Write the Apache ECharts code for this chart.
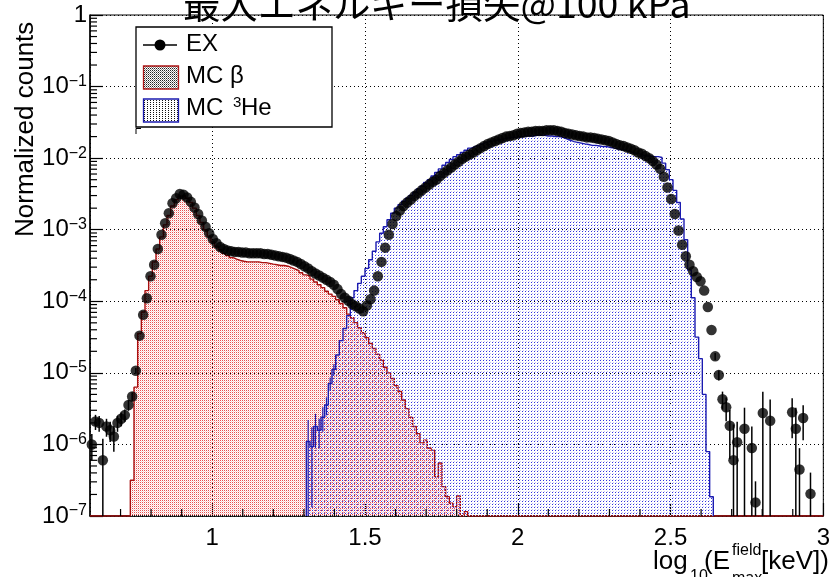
<!DOCTYPE html>
<html><head><meta charset="utf-8">
<script src="https://cdn.jsdelivr.net/npm/echarts@6/dist/echarts.min.js"></script>
<style>html,body{margin:0;padding:0;background:#fff}#c{width:833px;height:577px}</style>
</head><body><div id="c"></div>
<script>
// ---- binning (histogram definition) ----
const xMin = 0.6, xMax = 3.0, binWidth = 0.012, nBins = 200;
const yMin = 1e-7, yMax = 1;

// ---- EX (data points), one value per bin, null = empty bin ----
const exCounts = [
 1.0e-6,2.09e-6,2.0e-6,6.0e-7,1.78e-6,1.58e-6,1.29e-6,2.0e-6,2.29e-6,2.57e-6,
 3.55e-6,4.68e-6,1.07e-5,3.31e-5,6.46e-5,1.10e-4,2.24e-4,3.24e-4,5.37e-4,8.51e-4,
 1.23e-3,1.70e-3,2.34e-3,2.75e-3,3.16e-3,3.09e-3,2.82e-3,2.45e-3,2.04e-3,1.66e-3,
 1.35e-3,1.10e-3,8.91e-4,7.41e-4,6.46e-4,5.75e-4,5.37e-4,5.13e-4,5.01e-4,4.90e-4,
 4.90e-4,4.79e-4,4.79e-4,4.68e-4,4.68e-4,4.68e-4,4.68e-4,4.57e-4,4.57e-4,4.47e-4,
 4.37e-4,4.27e-4,4.17e-4,4.07e-4,3.89e-4,3.72e-4,3.55e-4,3.31e-4,3.09e-4,2.88e-4,
 2.63e-4,2.45e-4,2.29e-4,2.14e-4,2.00e-4,1.86e-4,1.70e-4,1.48e-4,1.26e-4,1.12e-4,
 1.02e-4,9.12e-5,8.51e-5,7.94e-5,7.24e-5,8.71e-5,1.07e-4,1.41e-4,2.24e-4,3.55e-4,
 5.62e-4,8.51e-4,1.20e-3,1.55e-3,1.86e-3,2.14e-3,2.40e-3,2.63e-3,2.95e-3,3.24e-3,
 3.55e-3,3.89e-3,4.27e-3,4.68e-3,5.01e-3,5.62e-3,6.17e-3,6.76e-3,7.41e-3,8.13e-3,
 8.91e-3,9.77e-3,1.05e-2,1.12e-2,1.20e-2,1.29e-2,1.38e-2,1.48e-2,1.58e-2,1.66e-2,
 1.74e-2,1.82e-2,1.91e-2,2.00e-2,2.04e-2,2.09e-2,2.19e-2,2.24e-2,2.29e-2,2.34e-2,
 2.34e-2,2.40e-2,2.40e-2,2.40e-2,2.45e-2,2.45e-2,2.45e-2,2.40e-2,2.34e-2,2.24e-2,
 2.19e-2,2.14e-2,2.09e-2,2.04e-2,2.00e-2,1.95e-2,1.95e-2,1.91e-2,1.86e-2,1.82e-2,
 1.78e-2,1.74e-2,1.66e-2,1.58e-2,1.51e-2,1.48e-2,1.41e-2,1.35e-2,1.29e-2,1.20e-2,
 1.15e-2,1.07e-2,1.00e-2,9.12e-3,8.13e-3,7.08e-3,5.50e-3,3.89e-3,2.69e-3,1.66e-3,
 9.77e-4,6.17e-4,4.27e-4,3.24e-4,2.63e-4,2.19e-4,1.91e-4,1.41e-4,8.32e-5,3.98e-5,
 1.70e-5,9.33e-6,4.27e-6,3.31e-6,1.82e-6,6.03e-7,1.07e-6,null,1.66e-6,null,
 8.91e-7,1.55e-7,null,2.75e-6,null,2.14e-6,null,null,null,null,
 null,2.82e-6,1.66e-6,4.47e-7,2.34e-6,null,2.04e-7,null,null,null
];
const exErrBins = [0,1,2,3,4,5,6,7,8,9,10,11,12,170,171,172,173,174,175,176,178,180,181,183,185,191,192,193,194,196];
const exErrVals = [4e-7,5e-7,5e-7,6e-7,5e-7,5e-7,5e-7,5e-7,5e-7,5e-7,6e-7,7e-7,1.0e-6,
  2.0e-6,1.5e-6,1.2e-6,1.2e-6,1.2e-6,1.3e-6,1.0e-6,1.6e-6,8.9e-7,1.5e-7,2.7e-6,2.1e-6,1.6e-6,1.6e-6,4.4e-7,1.2e-6,2.0e-7];

// ---- MC beta histogram ----
const betaFirstBin = 11;
const betaCounts = [
 3.16e-7,6.31e-6,3.55e-5,7.08e-5,1.41e-4,2.24e-4,3.55e-4,5.37e-4,7.94e-4,1.17e-3,
 1.58e-3,2.14e-3,2.63e-3,2.95e-3,3.02e-3,2.75e-3,2.40e-3,2.00e-3,1.58e-3,1.26e-3,
 1.00e-3,8.13e-4,6.76e-4,5.89e-4,5.25e-4,4.68e-4,4.37e-4,4.07e-4,3.89e-4,3.72e-4,
 3.63e-4,3.55e-4,3.55e-4,3.55e-4,3.55e-4,3.47e-4,3.47e-4,3.39e-4,3.31e-4,3.24e-4,
 3.16e-4,3.16e-4,3.09e-4,2.95e-4,2.82e-4,2.69e-4,2.51e-4,2.34e-4,2.24e-4,2.04e-4,
 1.86e-4,1.70e-4,1.55e-4,1.38e-4,1.26e-4,1.17e-4,1.05e-4,9.33e-5,8.13e-5,6.61e-5,
 5.89e-5,5.01e-5,4.27e-5,3.63e-5,3.09e-5,2.57e-5,2.19e-5,1.82e-5,1.51e-5,1.20e-5,
 1.00e-5,8.32e-6,6.61e-6,5.50e-6,4.17e-6,3.16e-6,2.40e-6,1.78e-6,1.41e-6,1.05e-6,
 1.15e-6,8.91e-7,8.32e-7,3.55e-7,5.50e-7,2.57e-7,1.86e-7,1.51e-7,1.35e-7,1.91e-7,
 null,1.15e-7
];

// ---- MC 3He histogram ----
const heFirstBin = 59;
const heCounts = [
 1.10e-6,9.33e-7,1.78e-6,1.58e-6,2.40e-6,3.55e-6,7.08e-6,1.12e-5,1.78e-5,2.82e-5,
 4.17e-5,6.31e-5,1.12e-4,1.41e-4,1.78e-4,2.24e-4,2.88e-4,3.80e-4,5.01e-4,6.76e-4,
 8.91e-4,1.10e-3,1.38e-3,1.70e-3,2.00e-3,2.24e-3,2.51e-3,2.75e-3,3.02e-3,3.31e-3,
 3.72e-3,4.07e-3,4.57e-3,5.01e-3,5.62e-3,6.31e-3,7.08e-3,7.94e-3,8.71e-3,9.55e-3,
 1.05e-2,1.12e-2,1.20e-2,1.29e-2,1.38e-2,1.45e-2,1.51e-2,1.58e-2,1.66e-2,1.70e-2,
 1.74e-2,1.78e-2,1.82e-2,1.86e-2,1.91e-2,1.95e-2,1.95e-2,2.00e-2,2.00e-2,2.04e-2,
 2.04e-2,2.04e-2,2.09e-2,2.09e-2,2.09e-2,2.04e-2,2.04e-2,2.00e-2,2.00e-2,1.95e-2,
 1.86e-2,1.78e-2,1.70e-2,1.66e-2,1.62e-2,1.58e-2,1.55e-2,1.51e-2,1.51e-2,1.48e-2,
 1.45e-2,1.45e-2,1.41e-2,1.38e-2,1.35e-2,1.32e-2,1.29e-2,1.26e-2,1.20e-2,1.17e-2,
 1.15e-2,1.10e-2,1.07e-2,1.07e-2,1.05e-2,1.05e-2,1.02e-2,8.51e-3,6.92e-3,5.01e-3,
 3.55e-3,2.40e-3,1.41e-3,7.24e-4,2.75e-4,1.12e-4,3.16e-5,1.58e-5,5.01e-6,7.94e-7,1.86e-7
];
const heErrBins = [59,60,61,62,63,64,65,66];
const heErrVals = [1.1e-6,8e-7,9e-7,7e-7,9e-7,1.0e-6,1.5e-6,2.0e-6];

// ---- texts ----
const titleText = '最大エネルギー損失@100 kPa';
const yTitle = 'Normalized counts';
const legendLabels = ['EX', 'MC β', 'MC', '3', 'He'];

// ---------------------------------------------------------------
const FONT = '"Liberation Sans", Arial, Helvetica, sans-serif';
const binLeft = i => xMin + i * binWidth;
const binCenter = i => xMin + (i + 0.5) * binWidth;

function makePattern(w, h, px) {
  const c = document.createElement('canvas');
  c.width = w; c.height = h;
  const g = c.getContext('2d');
  px.forEach(p => { g.fillStyle = p[2]; g.fillRect(p[0], p[1], 1, 1); });
  return { type: 'pattern', image: c, repeat: 'repeat' };
}
const redFill = makePattern(2, 2, [[0,0,'#e85050'],[1,1,'#f9d2d2']]);
const blueFill = makePattern(3, 3, [[0,0,'#3434dc'],[1,2,'#c8c8f4']]);
const legBetaFill = makePattern(2, 2, [[0,0,'#222'],[1,1,'#8a8a8a']]);
const legHeFill = makePattern(3, 2, [[0,0,'#111']]);

function histPoints(first, counts, fullRange) {
  const pts = [];
  const get = i => {
    const k = i - first;
    const v = (k >= 0 && k < counts.length) ? counts[k] : null;
    return (v == null || v < yMin) ? yMin : v;
  };
  const i0 = fullRange ? 0 : first;
  const i1 = fullRange ? nBins - 1 : first + counts.length - 1;
  if (!fullRange) pts.push([binLeft(i0), yMin]);
  for (let i = i0; i <= i1; i++) {
    const v = get(i);
    pts.push([binLeft(i), v], [binLeft(i + 1), v]);
  }
  if (!fullRange) pts.push([binLeft(i1 + 1), yMin]);
  return pts;
}

const exData = [];
exCounts.forEach((v, i) => { if (v != null) exData.push([binCenter(i), v]); });
const exErrData = exErrBins.map((b, k) => [binCenter(b), exCounts[b], exErrVals[k]]);
const heErrData = heErrBins.map((b, k) => [binCenter(b), heCounts[b - heFirstBin], heErrVals[k]]);

function errRender(color, lw) {
  return function (params, api) {
    const x = api.value(0), v = api.value(1), e = api.value(2);
    const lo = Math.max(v - e, yMin), hi = Math.min(v + e, yMax);
    const p1 = api.coord([x, lo]), p2 = api.coord([x, hi]);
    return { type: 'line', shape: { x1: p1[0], y1: p1[1], x2: p2[0], y2: p2[1] },
      style: { stroke: color, lineWidth: lw } };
  };
}

// minor tick positions (axis decoration)
const yMinorTicks = [];
for (let e = -7; e < 0; e++) for (let m = 2; m <= 9; m++) yMinorTicks.push([xMin, m * Math.pow(10, e)]);
const xMinorTicks = [];
for (let k = 7; k <= 29; k++) if (k % 5 !== 0) xMinorTicks.push([k / 10, yMin]);

const chart = echarts.init(document.getElementById('c'), null, { renderer: 'canvas' });
chart.setOption({
  animation: false,
  backgroundColor: '#fff',
  grid: { left: 90, right: 3, top: 15, bottom: 61, show: true, borderColor: '#000', borderWidth: 1, backgroundColor: 'transparent' },
  xAxis: {
    type: 'value', min: xMin, max: xMax,
    axisLine: { show: true, onZero: false, lineStyle: { color: '#000', width: 1.5 } },
    axisTick: { show: true, inside: true, length: 13, lineStyle: { color: '#000', width: 1.2 } },
    axisLabel: { showMinLabel: false, color: '#000', fontSize: 24, fontFamily: FONT, margin: 10 },
    splitLine: { show: true, lineStyle: { color: '#000', width: 1, type: [1, 3] } }
  },
  yAxis: {
    type: 'log', logBase: 10, min: yMin, max: yMax,
    axisLine: { show: true, lineStyle: { color: '#000', width: 1.5 } },
    axisTick: { show: true, inside: true, length: 13, lineStyle: { color: '#000', width: 1.2 } },
    axisLabel: {
      margin: 3, color: '#000',
      formatter: v => {
        const e = Math.round(Math.log10(v));
        return e === 0 ? '{b|1}' : '{b|10}{s|\u2212' + (-e) + '}';
      },
      rich: {
        b: { fontSize: 24, fontFamily: FONT, color: '#000', lineHeight: 26 },
        s: { fontSize: 16, fontFamily: FONT, color: '#000', verticalAlign: 'top', lineHeight: 26, padding: [0, 0, 14, 0] }
      }
    },
    splitLine: { show: true, lineStyle: { color: '#000', width: 1, type: [1, 3] } }
  },
  series: [
    { name: 'MC β', type: 'line', data: histPoints(betaFirstBin, betaCounts, true), symbol: 'none', showSymbol: false,
      lineStyle: { color: '#a80f0f', width: 1.4 }, areaStyle: { color: redFill, origin: 'start', opacity: 1 }, z: 2, clip: true },
    { name: 'MC 3He', type: 'line', data: histPoints(heFirstBin, heCounts, false), symbol: 'none', showSymbol: false,
      lineStyle: { color: '#1b1bb0', width: 1.4 }, areaStyle: { color: blueFill, origin: 'start', opacity: 1 }, z: 3, clip: true },
    { name: 'heErr', type: 'custom', data: heErrData, renderItem: errRender('#1b1bb0', 1.2), z: 3, clip: true },
    { name: 'exErr', type: 'custom', data: exErrData, renderItem: errRender('#000', 1.5), z: 4, clip: true },
    { name: 'EX', type: 'scatter', data: exData, symbol: 'circle', symbolSize: 10.5,
      itemStyle: { color: '#000' }, z: 5, clip: true },
    { name: 'yMinor', type: 'custom', data: yMinorTicks, z: 6, silent: true,
      renderItem: (p, api) => { const c = api.coord([api.value(0), api.value(1)]);
        return { type: 'line', shape: { x1: c[0], y1: c[1], x2: c[0] + 7, y2: c[1] }, style: { stroke: '#000', lineWidth: 1.2 } }; } },
    { name: 'xMinor', type: 'custom', data: xMinorTicks, z: 6, silent: true,
      renderItem: (p, api) => { const c = api.coord([api.value(0), api.value(1)]);
        return { type: 'line', shape: { x1: c[0], y1: c[1], x2: c[0], y2: c[1] - 7 }, style: { stroke: '#000', lineWidth: 1.2 } }; } }
  ],
  graphic: [
    { type: 'text', x: 183, y: -15, z: 10,
      style: { text: titleText, font: '37.5px "Noto Sans CJK JP", "Liberation Sans", sans-serif', fill: '#000', textVerticalAlign: 'top' } },
    { type: 'text', x: 13, y: 237, rotation: Math.PI / 2, z: 10,
      style: { text: yTitle, font: '26px ' + FONT, fill: '#000', textAlign: 'left', textVerticalAlign: 'top' } },
    // x axis title: log_10(E_max^field[keV])
    { type: 'text', x: 653, y: 575, z: 10, style: { text: 'log', font: '26px ' + FONT, fill: '#000', textVerticalAlign: 'bottom' } },
    { type: 'text', x: 690, y: 585, z: 10, style: { text: '10', font: '16px ' + FONT, fill: '#000', textVerticalAlign: 'bottom' } },
    { type: 'text', x: 704, y: 575, z: 10, style: { text: '(E', font: '26px ' + FONT, fill: '#000', textVerticalAlign: 'bottom' } },
    { type: 'text', x: 732, y: 559, z: 10, style: { text: 'field', font: '16px ' + FONT, fill: '#000', textVerticalAlign: 'bottom' } },
    { type: 'text', x: 732, y: 587, z: 10, style: { text: 'max', font: '16px ' + FONT, fill: '#000', textVerticalAlign: 'bottom' } },
    { type: 'text', x: 761, y: 575, z: 10, style: { text: '[keV])', font: '26px ' + FONT, fill: '#000', textVerticalAlign: 'bottom' } },
    // legend
    { type: 'rect', z: 20, shape: { x: 136, y: 27, width: 196, height: 100 }, style: { fill: '#fff', stroke: '#000', lineWidth: 1.3 } },
    { type: 'line', z: 21, shape: { x1: 143, y1: 45, x2: 177, y2: 45 }, style: { stroke: '#000', lineWidth: 1.5 } },
    { type: 'circle', z: 21, shape: { cx: 160, cy: 45, r: 5.5 }, style: { fill: '#000' } },
    { type: 'text', z: 21, x: 186, y: 56, style: { text: legendLabels[0], font: '24px ' + FONT, fill: '#000', textVerticalAlign: 'bottom' } },
    { type: 'rect', z: 21, shape: { x: 143.5, y: 66, width: 35, height: 23 }, style: { fill: legBetaFill, stroke: '#b01818', lineWidth: 1.3 } },
    { type: 'text', z: 21, x: 186, y: 88, style: { text: legendLabels[1], font: '24px ' + FONT, fill: '#000', textVerticalAlign: 'bottom' } },
    { type: 'rect', z: 21, shape: { x: 143.5, y: 99, width: 35, height: 23 }, style: { fill: legHeFill, stroke: '#1b1bb0', lineWidth: 1.3 } },
    { type: 'text', z: 21, x: 186, y: 120, style: { text: legendLabels[2], font: '24px ' + FONT, fill: '#000', textVerticalAlign: 'bottom' } },
    { type: 'text', z: 21, x: 233, y: 110, style: { text: legendLabels[3], font: '15px ' + FONT, fill: '#000', textVerticalAlign: 'bottom' } },
    { type: 'text', z: 21, x: 241, y: 120, style: { text: legendLabels[4], font: '24px ' + FONT, fill: '#000', textVerticalAlign: 'bottom' } },
    { type: 'polyline', z: 21, shape: { points: [[136, 134], [136, 128.5], [141, 128.5]] }, style: { stroke: '#000', lineWidth: 1, fill: null } }
  ]
});
</script></body></html>
